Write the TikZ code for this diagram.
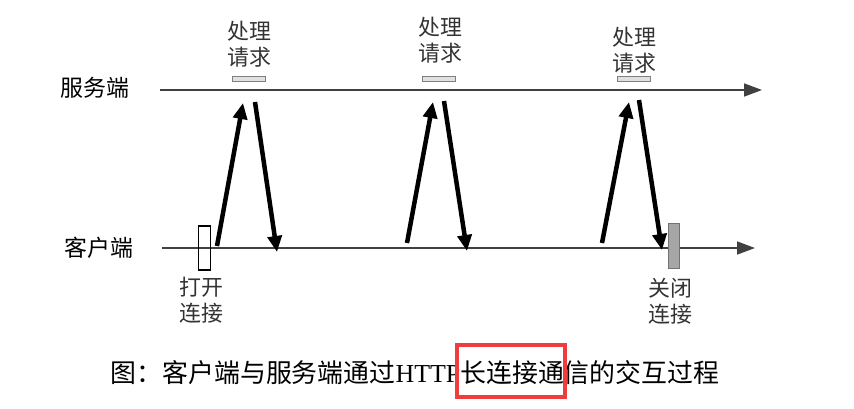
\documentclass[tikz,border=0pt]{standalone}
\usepackage{fontspec}
\setmainfont{Liberation Serif}
\newfontfamily\cjk{Noto Sans CJK SC}
\usetikzlibrary{arrows.meta}
\definecolor{markred}{RGB}{240,60,60}
\begin{document}
\begin{tikzpicture}[x=1bp,y=-1bp,
  axis/.style={draw=black!75, line width=1.6bp, -{Triangle[length=18bp,width=13bp]}},
  msg/.style={draw=black, line width=4.5bp, -{Triangle[length=16bp,width=14bp]}},
  lbl/.style={font=\cjk\fontsize{22}{26}\selectfont, align=center, text=black!80, inner sep=0pt},
  side/.style={font=\cjk\fontsize{23}{26}\selectfont, inner sep=0pt},
  proc/.style={draw=black!50, fill=black!12, line width=0.8bp, minimum width=33bp, minimum height=5bp, inner sep=0pt},
  openbox/.style={draw=black, line width=1.2bp, minimum width=12bp, minimum height=44bp, inner sep=0pt},
  closebox/.style={draw=black!55, fill=black!35, line width=0.8bp, minimum width=11bp, minimum height=45bp, inner sep=0pt},
  ]
\useasboundingbox (0,0) rectangle (854,408);

% side labels
\node[side] (srv) at (95,88) {服务端};
\node[side] (cli) at (99,248) {客户端};

% axes
\coordinate (s0) at (160,90);
\coordinate (s1) at (762,90);
\coordinate (c0) at (162,248);
\coordinate (c1) at (755,248);
\draw[axis] (s0) -- (s1);
\draw[axis] (c0) -- (c1);

% processing marks
\node[proc] (p1) at (249,78.5) {};
\node[proc] (p2) at (438.5,78.5) {};
\node[proc] (p3) at (634,79) {};
\node[lbl] (l1) at (249,44) {处理\\请求};
\node[lbl] (l2) at (440,40) {处理\\请求};
\node[lbl] (l3) at (634,50) {处理\\请求};

% open / close boxes
\node[openbox] (open) at (204.5,248) {};
\node[closebox] (close) at (673.5,245.5) {};
\node[lbl] (lo) at (201,300) {打开\\连接};
\node[lbl] (lc) at (670,301) {关闭\\连接};

% request / response arrows
\coordinate (a1) at (217,246);
\coordinate (b1) at (243,103);
\coordinate (c1s) at (255,102);
\coordinate (d1) at (277,252);
\coordinate (a2) at (407,243);
\coordinate (b2) at (433,102);
\coordinate (c2s) at (444,101);
\coordinate (d2) at (467,251);
\coordinate (a3) at (602,243);
\coordinate (b3) at (629,102);
\coordinate (c3s) at (639,100);
\coordinate (d3) at (662,250);
\draw[msg] (a1) -- (b1);
\draw[msg] (c1s) -- (d1);
\draw[msg] (a2) -- (b2);
\draw[msg] (c2s) -- (d2);
\draw[msg] (a3) -- (b3);
\draw[msg] (c3s) -- (d3);

% caption
\node[font=\fontsize{26}{30}\selectfont, inner sep=0pt] (cap) at (415,373)
  {{\cjk 图：客户端与服务端通过}HTTP{\cjk 长连接通信的交互过程}};
\node[draw=markred, line width=4bp, minimum width=108bp, minimum height=52bp, inner sep=0pt] (mark) at (511,371) {};
\end{tikzpicture}
\end{document}
